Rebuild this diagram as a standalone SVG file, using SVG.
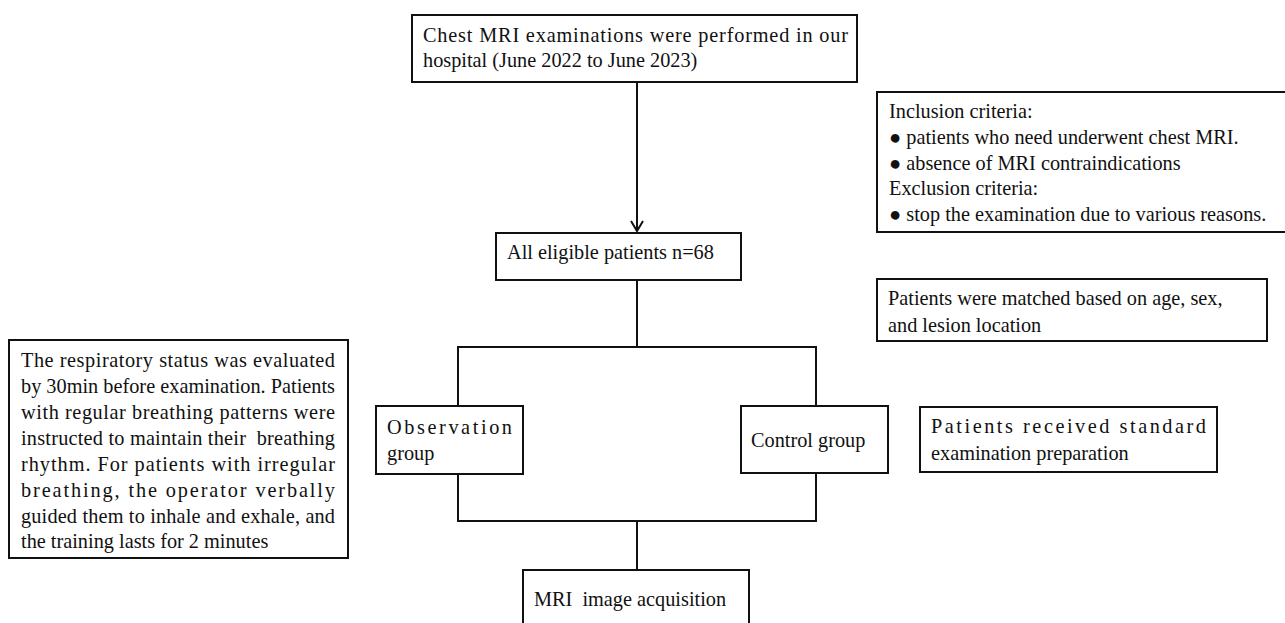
<svg xmlns="http://www.w3.org/2000/svg" width="1285" height="623" viewBox="0 0 1285 623">
<defs>
<style>
.box{fill:#fff;stroke:#111;stroke-width:2}
.ln{fill:none;stroke:#111;stroke-width:2}
text{font-family:"Liberation Serif","Times New Roman",serif;font-size:20.3px;fill:#111;white-space:pre}
</style>
<marker id="arr" markerWidth="14" markerHeight="14" refX="12" refY="7" orient="auto" markerUnits="userSpaceOnUse" viewBox="0 0 14 14">
<path d="M2,1 L12,7 L2,13" fill="none" stroke="#111" stroke-width="2"/>
</marker>
</defs>
<rect width="1285" height="623" fill="#fff"/>
<g id="connectors">
<line class="ln" x1="637" y1="82" x2="637" y2="231" marker-end="url(#arr)"/>
<polyline class="ln" points="637,280 637,347"/>
<polyline class="ln" points="458,406 458,347 816,347 816,406"/>
<polyline class="ln" points="458,474 458,521 816,521 816,473"/>
<line class="ln" x1="637" y1="521" x2="637" y2="570"/>
</g>
<g id="n-top">
<rect class="box" x="412" y="15" width="445" height="67"/>
<text x="423" y="42" textLength="425" lengthAdjust="spacing">Chest MRI examinations were performed in our</text>
<text x="423" y="67">hospital (June 2022 to June 2023)</text>
</g>
<g id="n-criteria">
<rect class="box" x="877" y="92" width="410" height="140"/>
<text x="889" y="118">Inclusion criteria:</text>
<text x="889" y="144">● patients who need underwent chest MRI.</text>
<text x="889" y="170">● absence of MRI contraindications</text>
<text x="889" y="195">Exclusion criteria:</text>
<text x="889" y="221">● stop the examination due to various reasons.</text>
</g>
<g id="n-eligible">
<rect class="box" x="496" y="233" width="245" height="47"/>
<text x="507" y="259">All eligible patients n=68</text>
</g>
<g id="n-matched">
<rect class="box" x="877" y="279" width="390" height="62"/>
<text x="888" y="305">Patients were matched based on age, sex,</text>
<text x="888" y="332">and lesion location</text>
</g>
<g id="n-respiratory">
<rect class="box" x="9" y="340" width="339" height="218"/>
<text x="21" y="367" textLength="314" lengthAdjust="spacing">The respiratory status was evaluated</text>
<text x="21" y="393" textLength="314" lengthAdjust="spacing">by 30min before examination. Patients</text>
<text x="21" y="419" textLength="314" lengthAdjust="spacing">with regular breathing patterns were</text>
<text x="21" y="445" textLength="314" lengthAdjust="spacing">instructed to maintain their  breathing</text>
<text x="21" y="471" textLength="314" lengthAdjust="spacing">rhythm. For patients with irregular</text>
<text x="21" y="497" textLength="314" lengthAdjust="spacing">breathing, the operator verbally</text>
<text x="21" y="523" textLength="314" lengthAdjust="spacing">guided them to inhale and exhale, and</text>
<text x="21" y="548">the training lasts for 2 minutes</text>
</g>
<g id="n-observation">
<rect class="box" x="376" y="406" width="147" height="68"/>
<text x="387" y="434" textLength="125" lengthAdjust="spacing">Observation</text>
<text x="387" y="460">group</text>
</g>
<g id="n-control">
<rect class="box" x="741" y="406" width="147" height="67"/>
<text x="751" y="447">Control group</text>
</g>
<g id="n-standard">
<rect class="box" x="920" y="407" width="297" height="65"/>
<text x="931" y="433" textLength="275" lengthAdjust="spacing">Patients received standard</text>
<text x="931" y="460">examination preparation</text>
</g>
<g id="n-mri">
<rect class="box" x="523" y="570" width="226" height="70"/>
<text x="534" y="606">MRI  image acquisition</text>
</g>
</svg>
